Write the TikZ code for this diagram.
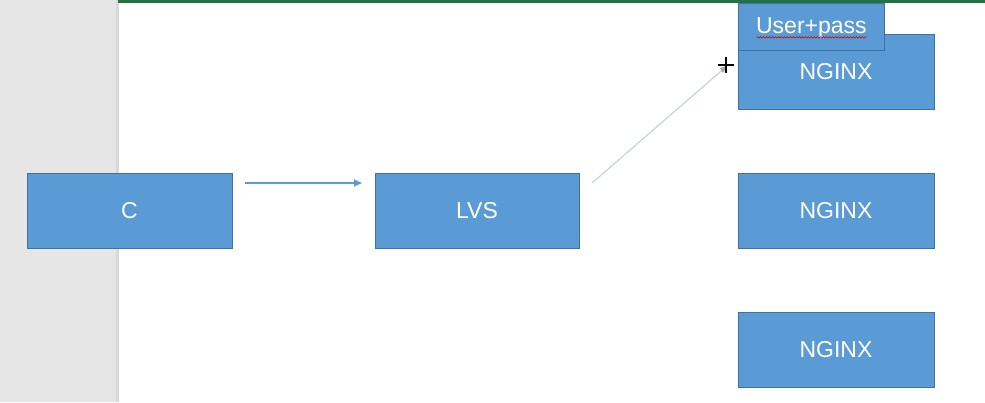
\documentclass[tikz,border=0pt]{standalone}
\usepackage{fontspec}
\setmainfont{Liberation Sans}
\usetikzlibrary{arrows.meta,decorations.pathmorphing}
\definecolor{boxfill}{HTML}{5B9BD5}
\definecolor{boxline}{HTML}{41719C}
\definecolor{sidegray}{HTML}{E6E6E6}
\definecolor{topgreen}{HTML}{217346}
\definecolor{lightline}{HTML}{BFD2E4}
\begin{document}
\begin{tikzpicture}[x=1pt,y=1pt,
  box/.style={draw=boxline,line width=0.8pt,fill=boxfill,text=white,inner sep=0pt,
    font=\fontsize{23}{25}\selectfont},
  conn/.style={draw=boxfill,line width=1.1pt,-{Triangle[length=8pt,width=7pt]}},
  faint/.style={draw=lightline,line width=1.1pt}]
\useasboundingbox (0,0) rectangle (985,402);
\fill[white] (0,0) rectangle (985,402);
\fill[sidegray] (0,0) rectangle (117,402);
\fill[black!15] (116,0) rectangle (118.5,402);
\fill[topgreen] (118,399) rectangle (985,402);
% boxes (y = 402 - pixel y)
\node[box,minimum width=205pt,minimum height=75pt] (c) at (129.5,191.5) {C};
\node[box,minimum width=204pt,minimum height=75pt] (lvs) at (477,191.5) {LVS};
\node[box,minimum width=196pt,minimum height=75pt] (n1) at (836,330.5) {NGINX};
\node[box,minimum width=196pt,minimum height=75pt] (n2) at (836,191.5) {NGINX};
\node[box,minimum width=196pt,minimum height=75pt] (n3) at (836,52.5) {NGINX};
\node[box,minimum width=146pt,minimum height=47pt,anchor=north west] (up) at (738,399) {\raisebox{-7pt}[0pt][0pt]{User+pass}};
\draw[red!80!black,line width=0.5pt,decorate,decoration={snake,amplitude=0.8pt,segment length=3pt}]
  ([xshift=-55pt,yshift=-10.5pt]up.center) -- ([xshift=55pt,yshift=-10.5pt]up.center);
% connectors
\coordinate (a1) at (245,219);
\coordinate (a2) at (362,219);
\draw[conn] (a1) -- (a2);
\coordinate (b1) at (592,219);
\coordinate (b2) at (727,336);
\draw[faint] (b1) -- (b2);
\fill[gray!70] (b2) -- ++(-7,-2) -- ++(3,-5) -- cycle;
% cursor
\coordinate (cur) at (726,337);
\draw[black,line width=1.3pt] ([xshift=-8pt]cur) -- ([xshift=8pt]cur);
\draw[black,line width=1.3pt] ([yshift=-8pt]cur) -- ([yshift=8pt]cur);
\end{tikzpicture}
\end{document}
